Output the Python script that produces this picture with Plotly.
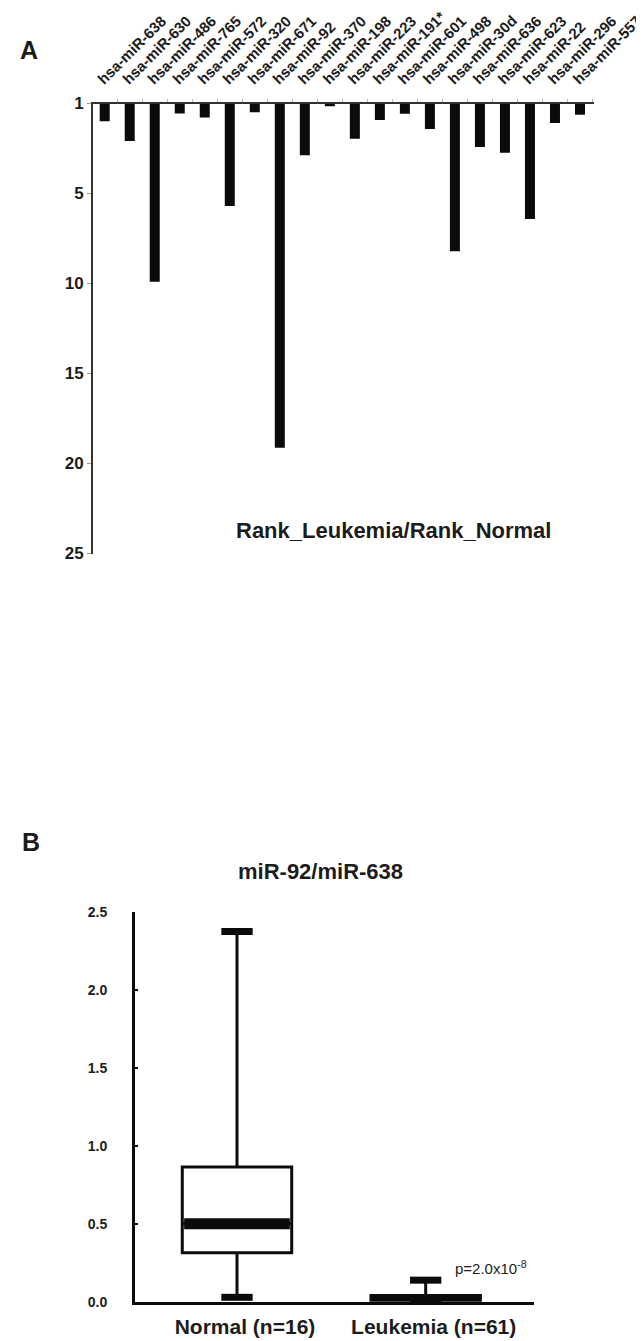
import plotly.graph_objects as go

# ---------------- Data ----------------
mirnas = ["hsa-miR-638", "hsa-miR-630", "hsa-miR-486", "hsa-miR-765", "hsa-miR-572",
          "hsa-miR-320", "hsa-miR-671", "hsa-miR-92", "hsa-miR-370", "hsa-miR-198",
          "hsa-miR-223", "hsa-miR-191*", "hsa-miR-601", "hsa-miR-498", "hsa-miR-30d",
          "hsa-miR-636", "hsa-miR-623", "hsa-miR-22", "hsa-miR-296", "hsa-miR-557"]
rank_ratio = [0.98, 2.09, 9.9, 0.56, 0.78,
              5.69, 0.48, 19.12, 2.87, 0.15,
              1.96, 0.92, 0.57, 1.42, 8.21,
              2.41, 2.73, 6.42, 1.09, 0.63]
rank_tickvals = [0, 5, 10, 15, 20, 25]
rank_ticktext = ["1", "5", "10", "15", "20", "25"]

groups = ["Normal (n=16)", "Leukemia (n=61)"]
group_pos = [0, 1]
q1 = [0.315, 0.012]
median = [0.502, 0.028]
q3 = [0.865, 0.042]
lowerfence = [0.03, 0.005]
upperfence = [2.375, 0.14]
ratio_tickvals = [0.0, 0.5, 1.0, 1.5, 2.0, 2.5]

W, H = 644, 1341
FONT = "Liberation Sans, Arial, Helvetica, sans-serif"
INK = "#1c1c1c"

def px(x):
    return x / W

def py(y):
    return 1 - y / H

fig = go.Figure()

# ---------------- Panel A ----------------
fig.add_trace(go.Bar(
    x=mirnas, y=rank_ratio, width=0.4,
    marker=dict(color="#0b0b0b", line=dict(width=0)),
    xaxis="x", yaxis="y", showlegend=False, hoverinfo="x+y"))

# ---------------- Panel B ----------------
BOXW = 0.58
fig.add_trace(go.Box(
    x=group_pos, q1=q1, median=median, q3=q3,
    lowerfence=lowerfence, upperfence=upperfence,
    width=BOXW, whiskerwidth=0, boxpoints=False,
    fillcolor="white", line=dict(color="#0b0b0b", width=3),
    xaxis="x2", yaxis="y2", showlegend=False))

median_w = [11, 3]
for i, p in enumerate(group_pos):
    fig.add_trace(go.Scatter(
        x=[p - BOXW / 2 + 0.01, p + BOXW / 2 - 0.01], y=[median[i], median[i]],
        mode="lines", line=dict(color="#0b0b0b", width=median_w[i]),
        xaxis="x2", yaxis="y2", showlegend=False, hoverinfo="skip", cliponaxis=False))
    for v in (lowerfence[i], upperfence[i]):
        fig.add_trace(go.Scatter(
            x=[p - 0.083, p + 0.083], y=[v, v],
            mode="lines", line=dict(color="#0b0b0b", width=7),
            xaxis="x2", yaxis="y2", showlegend=False, hoverinfo="skip", cliponaxis=False))

bold = dict(family=FONT, color=INK, weight="bold")

def label(text, x, y, size, **kw):
    d = dict(text=text, x=px(x), y=py(y), xref="paper", yref="paper",
             xanchor="center", yanchor="middle", showarrow=False,
             font=dict(size=size, **bold))
    d.update(kw)
    return d

fig.update_layout(
    width=W, height=H, autosize=False,
    margin=dict(l=0, r=0, t=0, b=0),
    paper_bgcolor="white", plot_bgcolor="white",
    bargap=0.6, boxmode="overlay",
    xaxis=dict(
        domain=[px(85), px(586)], anchor="y", side="top",
        type="category", range=[-0.468, 19.56],
        showline=True, linecolor="#333", linewidth=2,
        ticks="outside", tickson="boundaries", ticklen=3, tickcolor="#bbb", tickwidth=1,
        tickangle=-45, ticklabelstandoff=8, ticklabelshift=-6,
        tickfont=dict(size=15, **bold),
        showgrid=False, zeroline=False, automargin=False, fixedrange=True),
    yaxis=dict(
        domain=[py(545.5), py(95.5)], anchor="x",
        range=[25, 0],
        tickvals=rank_tickvals, ticktext=rank_ticktext,
        showline=True, linecolor="#333", linewidth=2,
        ticks="outside", ticklen=4, tickcolor="#999", tickwidth=1,
        tickfont=dict(size=17, **bold),
        showgrid=False, zeroline=False, automargin=False, fixedrange=True),
    xaxis2=dict(
        domain=[px(127), px(526)], anchor="y2",
        range=[-0.5405, 1.574],
        tickvals=group_pos, ticktext=groups,
        showline=True, linecolor="#0b0b0b", linewidth=3,
        ticks="", ticklabelstandoff=4, ticklabelshift=8,
        tickfont=dict(size=21, **bold),
        showgrid=False, zeroline=False, automargin=False, fixedrange=True),
    yaxis2=dict(
        domain=[py(1294), py(904)], anchor="x2",
        range=[0, 2.5],
        tickvals=ratio_tickvals, tickformat=".1f",
        showline=True, linecolor="#0b0b0b", linewidth=3,
        ticks="inside", ticklen=3, tickcolor="#0b0b0b", tickwidth=2,
        ticklabelstandoff=22,
        tickfont=dict(size=14, **bold),
        showgrid=False, zeroline=False, automargin=False, fixedrange=True),
    annotations=[
        label("A", 21, 42.5, 25),
        label("B", 23, 834, 25),
        label("Rank_Leukemia/Rank_Normal", 385, 522, 22),
        label("miR-92/miR-638", 312.5, 863, 22),
        dict(text="p=2.0x10<sup>-8</sup>", x=px(445), y=py(1259), xref="paper", yref="paper",
             xanchor="left", yanchor="middle",
             showarrow=False, font=dict(size=15, family=FONT, color=INK)),
    ],
)

fig.write_html("out.html")
